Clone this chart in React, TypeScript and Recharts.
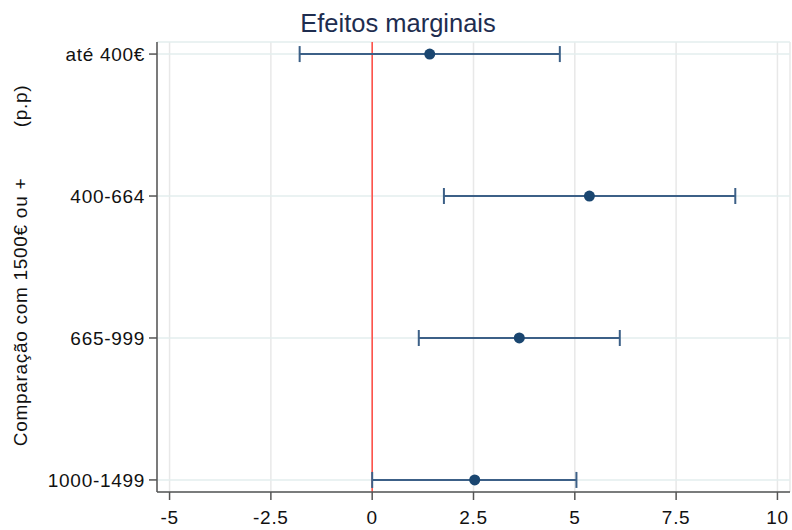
import React from 'react';
import { ScatterChart, Scatter, XAxis, YAxis, CartesianGrid, ReferenceLine, ErrorBar } from 'recharts';

const categories = ['até 400€', '400-664', '665-999', '1000-1499'];
const estimates = [1.42, 5.36, 3.63, 2.53];
const lowerCI = [-1.79, 1.77, 1.15, 0.0];
const upperCI = [4.63, 8.96, 6.11, 5.04];
const xTicks = [-5, -2.5, 0, 2.5, 5, 7.5, 10];
const yTitleMain = 'Comparação com 1500€ ou +';
const yTitleUnit = '(p.p)';
const title = 'Efeitos marginais';

const data = categories.map((c, i) => ({
  pos: i,
  est: estimates[i],
  err: [estimates[i] - lowerCI[i], upperCI[i] - estimates[i]],
}));

const FONT = '"Liberation Sans", Arial, sans-serif';
const LS = 0.7;
const FS = 19;

const YLabel = () => {
  return (
    <g>
      <text
        x={0}
        y={0}
        transform={`translate(27, 312) rotate(-90)`}
        textAnchor="middle"
        fontFamily={FONT}
        fontSize={FS}
        letterSpacing={LS}
        fill="#111"
      >
        {yTitleMain}
      </text>
      <text
        x={0}
        y={0}
        transform={`translate(27, 106) rotate(-90)`}
        textAnchor="middle"
        fontFamily={FONT}
        fontSize={FS}
        letterSpacing={LS}
        fill="#111"
      >
        {yTitleUnit}
      </text>
    </g>
  );
};

export default function App() {
  return (
    <div style={{ position: 'absolute', left: 0, top: 0, width: 792, height: 530, background: '#fff' }}>
      <div
        style={{
          position: 'absolute',
          left: 2,
          top: 11,
          width: 792,
          textAlign: 'center',
          fontFamily: FONT,
          fontSize: 25.5,
          lineHeight: '25px',
          color: '#1e2d4f',
        }}
      >
        {title}
      </div>
      <ScatterChart width={792} height={530} margin={{ top: 42, right: 2, left: 0, bottom: 0 }}>
        <CartesianGrid horizontal={false} stroke="#e8e8e8" strokeWidth={1.5} />
        <CartesianGrid vertical={false} stroke="#e3eeee" strokeWidth={1.5} />
        <XAxis
          type="number"
          dataKey="est"
          domain={[-5.31, 10.31]}
          allowDataOverflow
          ticks={xTicks}
          interval={0}
          tickFormatter={(v: number) => String(v)}
          height={38}
          tickSize={8}
          tickMargin={11}
          stroke="#555"
          strokeWidth={1.5}
          tick={{ fill: '#111', fontSize: FS, fontFamily: FONT, letterSpacing: LS }}
        />
        <YAxis
          type="number"
          dataKey="pos"
          domain={[-0.085, 3.085]}
          allowDataOverflow
          reversed
          ticks={[0, 1, 2, 3]}
          interval={0}
          tickFormatter={(v: number) => categories[v]}
          width={157}
          tickSize={8}
          tickMargin={4}
          stroke="#555"
          strokeWidth={1.5}
          tick={{ fill: '#111', fontSize: FS, fontFamily: FONT, letterSpacing: LS }}
          label={<YLabel />}
        />
        <ReferenceLine x={0} stroke="#ff4a40" strokeWidth={1.5} />
        <Scatter
          data={data}
          isAnimationActive={false}
          fill="#1a4670"
          shape={(p: any) => <circle cx={p.cx} cy={p.cy} r={5.5} fill="#1a4670" />}
        >
          <ErrorBar dataKey="err" direction="x" stroke="#3c6087" strokeWidth={2} width={8} />
        </Scatter>
      </ScatterChart>
    </div>
  );
}
